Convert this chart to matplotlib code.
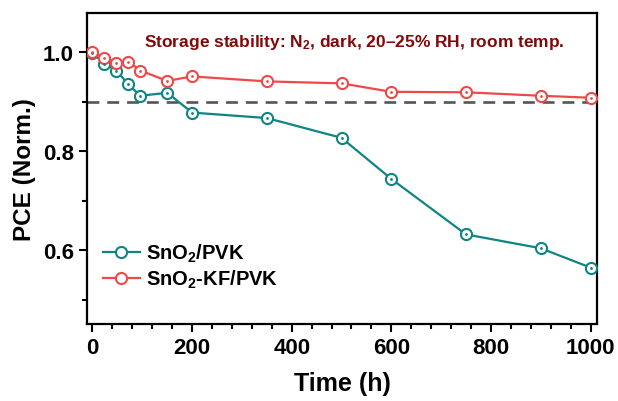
import matplotlib
matplotlib.use("Agg")
import matplotlib.pyplot as plt
from matplotlib.ticker import MultipleLocator

plt.rcParams['font.family'] = ['Liberation Sans', 'DejaVu Sans']
plt.rcParams['font.weight'] = 'bold'
plt.rcParams['mathtext.fontset'] = 'custom'
plt.rcParams['mathtext.rm'] = 'Liberation Sans:bold'
plt.rcParams['mathtext.default'] = 'rm'

# storage time (h) and normalized PCE
t = [0, 24, 48, 72, 96, 150, 200, 350, 500, 600, 750, 900, 1000]
pce_ref = [0.998, 0.977, 0.963, 0.935, 0.912, 0.918, 0.878, 0.867, 0.827, 0.744, 0.632, 0.604, 0.565]
pce_kf = [1.0, 0.988, 0.978, 0.981, 0.963, 0.942, 0.951, 0.941, 0.937, 0.920, 0.919, 0.912, 0.908]
labels = ['SnO$_2$/PVK', 'SnO$_2$-KF/PVK']
colors = ['#0e8582', '#f04848']

fig = plt.figure(figsize=(6.18, 4.02), dpi=100)
ax = fig.add_axes([0.1408, 0.1915, 0.8252, 0.7735])

ax.axhline(0.9, color='#555555', lw=1.9, ls=(0, (4.5, 3)), zorder=1)

for y, lab, c in zip([pce_ref, pce_kf], labels, colors):
    ax.plot(t, y, '-o', color=c, lw=1.6, ms=8, mfc='white', mec=c, mew=1.5, label=lab, zorder=3)
    ax.plot(t, y, '.', color=c, ms=2, zorder=4)

ax.set_xlim(-11, 1013)
ax.set_ylim(0.451, 1.079)
ax.xaxis.set_major_locator(MultipleLocator(200))
ax.xaxis.set_minor_locator(MultipleLocator(40))
ax.yaxis.set_major_locator(MultipleLocator(0.2))
ax.yaxis.set_minor_locator(MultipleLocator(0.1))
ax.tick_params(which='both', direction='out', width=1.5, labelsize=16)
ax.tick_params(which='major', length=6)
ax.tick_params(which='minor', length=3.5)
for s in ax.spines.values():
    s.set_linewidth(1.6)

ax.set_xlabel('Time (h)', fontsize=18, fontweight='bold', labelpad=9)
ax.set_ylabel('PCE (Norm.)', fontsize=17.5, fontweight='bold', labelpad=5)

ax.text(0.523, 0.91, 'Storage stability: N$_2$, dark, 20\u201325% RH, room temp.',
        transform=ax.transAxes, ha='center', va='center', fontsize=12.5,
        fontweight='bold', color='#850808')

ax.legend(loc='lower left', bbox_to_anchor=(-0.005, 0.05), frameon=False, fontsize=14.5,
          handlelength=1.85, handletextpad=0.3, labelspacing=0.2)

fig.savefig('out.png', dpi=100)
